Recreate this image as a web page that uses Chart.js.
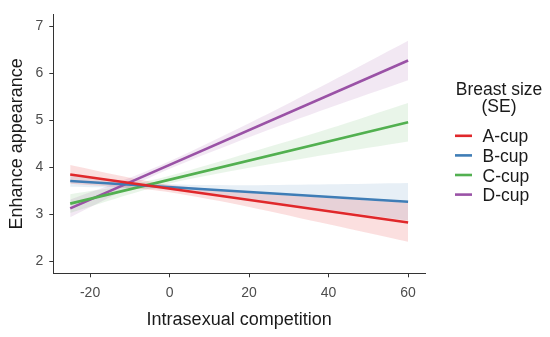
<!DOCTYPE html>
<html>
<head>
<meta charset="utf-8">
<script src="https://cdn.jsdelivr.net/npm/chart.js@4/dist/chart.umd.min.js"></script>
<style>
  html, body { margin: 0; padding: 0; background: #ffffff; }
  #wrap { width: 550px; height: 337px; }
</style>
</head>
<body>
<div id="wrap"><canvas id="c" width="550" height="337"></canvas></div>
<script>
// ---- data ----
const seriesNames = ['A-cup', 'B-cup', 'C-cup', 'D-cup'];
const lineX = [-25, 60];
const lineA = [3.85, 2.83];
const lineB = [3.71, 3.27];
const lineC = [3.23, 4.96];
const lineD = [3.13, 6.27];

const ribbonX = [-25, -10, 0, 20, 40, 60];
const upperA = [4.05, 3.78, 3.63, 3.46, 3.35, 3.25];
const lowerA = [3.65, 3.56, 3.47, 3.16, 2.79, 2.42];
const upperB = [3.83, 3.70, 3.64, 3.62, 3.64, 3.67];
const lowerB = [3.59, 3.56, 3.52, 3.32, 3.10, 2.87];
const upperC = [3.43, 3.63, 3.82, 4.31, 4.82, 5.37];
const lowerC = [3.03, 3.43, 3.66, 3.99, 4.28, 4.55];
const upperD = [3.32, 3.78, 4.13, 4.94, 5.80, 6.69];
const lowerD = [2.94, 3.58, 3.97, 4.64, 5.26, 5.85];

const xTicks = [-20, 0, 20, 40, 60];
const yTicks = [2, 3, 4, 5, 6, 7];
const xTitle = 'Intrasexual competition';
const yTitle = 'Enhance appearance';
const legendTitle = ['Breast size', '(SE)'];

// ---- styling ----
const colors = ['#E0282B', '#3F7DB6', '#52B050', '#9A52A6'];
const fills = ['rgba(228,26,28,0.14)', 'rgba(55,126,184,0.12)', 'rgba(77,175,74,0.12)', 'rgba(152,78,163,0.13)'];
const FONT = '"Liberation Sans", Arial, Helvetica, sans-serif';

const lines = [lineA, lineB, lineC, lineD];
const uppers = [upperA, upperB, upperC, upperD];
const lowers = [lowerA, lowerB, lowerC, lowerD];
const pts = (xs, ys) => xs.map((x, i) => ({ x: x, y: ys[i] }));

const datasets = [];
lines.forEach((ys, i) => {
  datasets.push({
    label: seriesNames[i], data: pts(lineX, ys), borderColor: colors[i],
    borderWidth: 2.6, pointRadius: 0, fill: false, order: 0, tension: 0
  });
});
uppers.forEach((ys, i) => {
  datasets.push({
    label: seriesNames[i] + ' upper', data: pts(ribbonX, ys), borderWidth: 0,
    borderColor: 'rgba(0,0,0,0)', backgroundColor: fills[i], pointRadius: 0,
    fill: '+1', order: 1, tension: 0.3
  });
  datasets.push({
    label: seriesNames[i] + ' lower', data: pts(ribbonX, lowers[i]), borderWidth: 0,
    borderColor: 'rgba(0,0,0,0)', backgroundColor: fills[i], pointRadius: 0,
    fill: false, order: 1, tension: 0.3
  });
});

const legendPlugin = {
  id: 'ggLegend',
  afterDraw(chart) {
    const ctx = chart.ctx;
    ctx.save();
    ctx.fillStyle = '#1a1a1a';
    ctx.font = '17.5px ' + FONT;
    ctx.textAlign = 'center';
    ctx.textBaseline = 'alphabetic';
    ctx.fillText(legendTitle[0], 499, 94.5);
    ctx.fillText(legendTitle[1], 499, 112);
    ctx.textAlign = 'left';
    seriesNames.forEach((name, i) => {
      const base = 142.3 + i * 19.6;
      ctx.strokeStyle = colors[i];
      ctx.lineWidth = 2.6;
      ctx.beginPath();
      ctx.moveTo(455, base - 6.5);
      ctx.lineTo(472, base - 6.5);
      ctx.stroke();
      ctx.fillStyle = '#1a1a1a';
      ctx.fillText(name, 482.5, base);
    });
    ctx.restore();
  }
};

new Chart(document.getElementById('c'), {
  type: 'line',
  data: { datasets: datasets },
  plugins: [legendPlugin],
  options: {
    responsive: false,
    animation: false,
    events: [],
    layout: { padding: { left: 0, right: 125, top: 11.7, bottom: 0 } },
    plugins: { legend: { display: false }, tooltip: { enabled: false } },
    scales: {
      x: {
        type: 'linear', min: -29.25, max: 64.25,
        afterBuildTicks: (s) => { s.ticks = xTicks.map(v => ({ value: v })); },
        afterFit: (s) => { s.height = 63.7; },
        grid: { drawOnChartArea: false, drawTicks: true, tickLength: 4, color: '#333333', tickWidth: 1 },
        border: { display: true, color: '#333333', width: 1 },
        ticks: { color: '#4d4d4d', font: { family: FONT, size: 14 }, padding: 7, maxRotation: 0 },
        title: { display: true, text: xTitle, color: '#1a1a1a', font: { family: FONT, size: 18 }, padding: { top: 0, bottom: 6.5 } }
      },
      y: {
        type: 'linear', min: 1.75, max: 7.25,
        afterBuildTicks: (s) => { s.ticks = yTicks.map(v => ({ value: v })); },
        afterFit: (s) => { s.width = 53.3; },
        grid: { drawOnChartArea: false, drawTicks: true, tickLength: 4, color: '#333333', tickWidth: 1 },
        border: { display: true, color: '#333333', width: 1 },
        ticks: { color: '#4d4d4d', font: { family: FONT, size: 14 }, padding: 6 },
        title: { display: true, text: yTitle, color: '#1a1a1a', font: { family: FONT, size: 18 }, padding: { top: 6, bottom: 0 } }
      }
    }
  }
});
</script>
</body>
</html>
